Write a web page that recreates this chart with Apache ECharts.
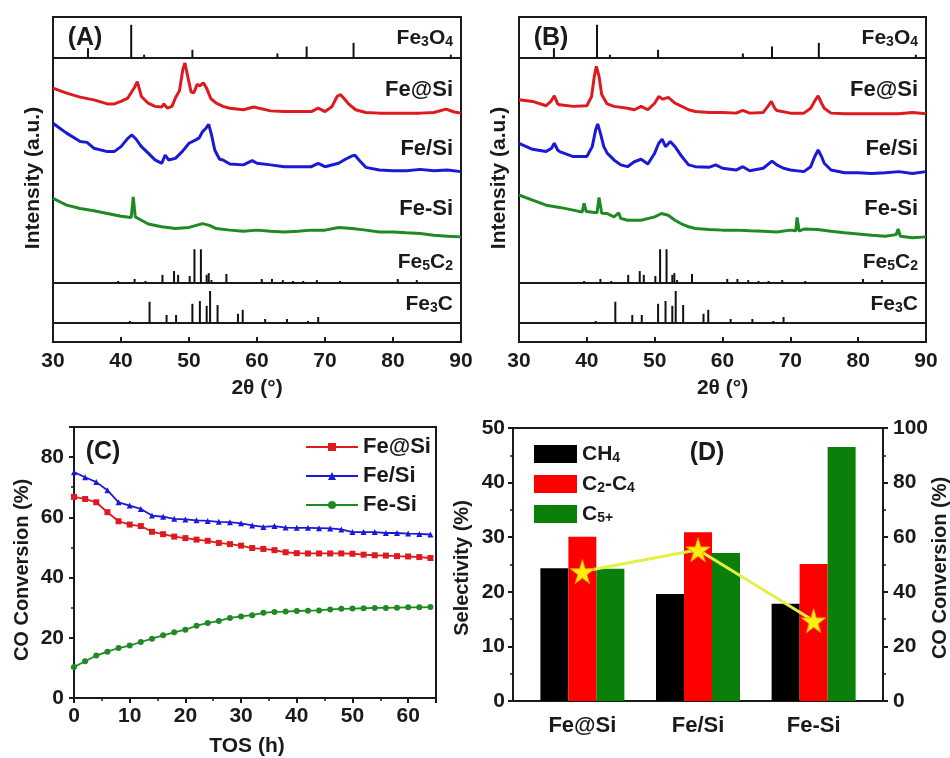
<!DOCTYPE html>
<html>
<head>
<meta charset="utf-8">
<script src="https://cdn.jsdelivr.net/npm/echarts@6/dist/echarts.min.js"></script>
<style>
  html, body { margin: 0; padding: 0; background: #fff; }
  #chart { width: 950px; height: 758px; }
</style>
</head>
<body>
<div id="chart"></div>
<script>
(function(){

    // ---- reference patterns (same in A and B), [2theta, relative height]
    var fe3o4Sticks = [[35.15,24],[41.5,81],[43.4,8],[50.5,20],[63.0,11],[67.3,28],[74.2,37],[88.5,8]];
    var fe5c2Sticks = [[39.6,0.9],[42.0,1.8],[43.6,0.9],[46.1,3.6],[47.8,5.3],[48.4,3.6],[50.1,3.1],[50.8,15],[51.75,15],
        [52.6,3.6],[52.9,4.4],[53.3,1.3],[55.5,4.0],[60.7,1.8],[62.2,1.8],[63.8,1.3],[65.3,0.9],[66.8,0.9],
        [68.8,1.3],[72.2,0.9],[80.7,1.8],[83.5,1.3]];
    var fe3cSticks = [[41.3,5],[44.2,53],[46.7,20],[48.1,20],[50.5,48],[51.6,55],[52.6,43],[53.1,80],[54.2,45],
        [57.2,23],[57.9,33],[61.2,10],[64.4,10],[67.5,5],[69.0,15]];

    // ---- XRD traces, panel A (offset intensities, a.u.)
    var xrdA_FeAtSi = [[30,86.6],[32,84.4],[34,82.6],[36,81.4],[38,79.6],[39,79.6],[40,80.7],[41,82.2],[42,87],[42.4,89.5],
        [43,82.9],[44,79.9],[45,78.5],[46,78.2],[46.3,79.6],[46.8,77.7],[47.5,78.5],[48,82.2],[48.6,85.5],[49.1,95],
        [49.4,97.8],[49.8,92],[50.3,85],[50.7,84.5],[51.2,88.3],[51.6,87.6],[52.1,89],[52.6,86.5],[53.2,82],[54,79.9],
        [55,78.5],[56,77.7],[58,77.0],[59.5,78.2],[60,77.9],[62,76.5],[64,76.2],[66,76.2],[68,76.2],[69,77.7],[70,76.2],
        [71,78.3],[71.8,83],[72.3,83.7],[72.8,82],[73.5,79.5],[74.5,77],[76,75.8],[78,75.5],[80,75.5],[82,75.5],
        [84,75.5],[86,75.8],[87.8,77.3],[89,76],[90,75.5]];
    var xrdA_FeSlashSi = [[30,71],[31,68.8],[32,66.6],[34,62.9],[35,62.5],[36,59.9],[38,58.4],[39,58.4],[40,60.6],[41,64.3],
        [41.6,65.8],[42.2,64],[43,60.6],[44,57.7],[45,54.7],[46,53.2],[46.5,56.9],[47,54.7],[48,55.4],[49,58.4],[50,62.1],
        [51,63.6],[51.5,64.5],[52,67.3],[52.5,68.8],[52.9,70.5],[53.3,66],[53.8,59],[54.5,55],[55,54.7],[56,52.9],
        [58,52.5],[59.3,54.4],[60,53.2],[62,52.5],[64,51.7],[66,51.7],[68,51.7],[69,53.2],[70,51.7],[72,53.2],[73,55],
        [74,56.5],[74.4,56.8],[75,54.7],[76,51.4],[78,50.2],[80,49.9],[82,49.9],[84,50.5],[86,49.9],[88,50.2],[90,49.5]];
    var xrdA_FeDashSi = [[30,37.6],[31,36.1],[32,34.6],[34,33.1],[36,32.1],[38,30.9],[40,29.7],[41.5,29.1],[41.8,38.3],
        [42.1,29.4],[43,27.9],[44,26.2],[46,25.0],[48,24.2],[50,24.7],[52,26.4],[53,25.6],[54,24.2],[56,23.5],[58,23.0],
        [60,23.5],[62,23.0],[64,22.7],[66,23.0],[68,23.5],[70,23.5],[72,24.7],[74,24.2],[76,23.5],[78,22.7],[80,22.7],
        [82,22.3],[84,22.0],[86,21.2],[88,20.8],[90,20.5]];

    // ---- XRD traces, panel B
    var xrdB_FeAtSi = [[30,81.4],[32,80.7],[34,78.8],[34.7,80.7],[35.2,83.2],[35.7,79.6],[36,79.2],[38,78.5],[40,78.8],
        [40.7,82.9],[41.1,91.8],[41.4,96.3],[41.8,91.8],[42.2,83.7],[43,79.6],[44,78.5],[46,77.7],[47,77.0],[48,78.5],
        [49,77.0],[50,79.9],[50.6,82.9],[51.2,81.7],[52,82.5],[53,79.9],[54,78.5],[55,77.0],[56,76.2],[58,75.8],
        [60,75.8],[62,75.5],[63,76.7],[64,75.5],[66,75.8],[66.7,78.5],[67.2,80.7],[67.7,77.7],[68,76.7],[70,75.5],
        [72,75.5],[73,77.7],[73.7,81.4],[74.1,83.2],[74.6,79.9],[75,77.7],[76,75.5],[78,75.2],[80,75.2],[82,75.2],
        [84,75.2],[86,75.2],[88,75.8],[90,75.2]];
    var xrdB_FeSlashSi = [[30,62.1],[32,59.4],[34,58.4],[34.8,59.9],[35.2,62.1],[35.7,59.1],[36,58.4],[38,56.2],[40,56.2],
        [40.8,60.6],[41.3,68.1],[41.6,70.7],[42,66.6],[42.5,60.6],[43,57.7],[44,54.7],[45,52.5],[46,51.7],[47,53.9],
        [48,55.0],[49,52.9],[50,57.7],[50.6,62.1],[51.1,63.9],[51.6,60.6],[52.3,62.9],[53,60.6],[54,56.2],[55,52.5],
        [56,51.7],[58,51.4],[59,52.5],[60,51.0],[62,50.2],[63,51.7],[64,49.9],[66,51.0],[67.3,54.2],[68,52.5],[69,51.0],
        [70,50.2],[72,49.5],[73,51.7],[73.6,56.2],[74.1,59.1],[74.6,56.2],[75,53.2],[76,50.2],[78,49.0],[80,49.0],
        [82,48.7],[84,49.0],[86,49.5],[88,48.7],[90,49.5]];
    var xrdB_FeDashSi = [[30,39.1],[32,36.8],[34,34.6],[36,33.6],[38,32.4],[39.3,31.5],[39.6,35.4],[39.9,31.8],[41.5,31.2],
        [41.8,38.0],[42.2,31.0],[43,30.9],[44,29.4],[44.7,31.2],[45,28.7],[46,27.9],[48,27.9],[50,29.4],[51,30.9],
        [52,30.1],[53,27.9],[54,26.2],[55,25.0],[56,24.2],[58,23.8],[60,23.5],[62,23.5],[64,23.2],[66,23.0],[68,22.7],
        [70,23.5],[70.8,23.2],[71,29.1],[71.3,23.0],[72,24.0],[74,23.8],[76,23.0],[78,22.3],[80,21.8],[82,21.2],
        [84,20.8],[85.6,21.5],[85.9,24.0],[86.2,20.8],[88,20.1],[90,20.5]];

    // ---- panel C: CO conversion vs TOS
    var tosHours = [0,2,4,6,8,10,12,14,16,18,20,22,24,26,28,30,32,34,36,38,40,42,44,46,48,50,52,54,56,58,60,62,64];
    var convFeAtSi = [66.8,66.1,65.0,61.7,58.7,57.6,57.1,55.2,54.4,53.6,53.1,52.6,52.2,51.5,51.1,50.6,49.8,49.5,49.1,
        48.4,48.1,48.0,48.0,48.0,48.0,47.9,47.6,47.4,47.3,47.1,47.0,46.8,46.5];
    var convFeSlashSi = [75.0,73.3,71.7,69.0,65.0,63.9,62.8,60.6,60.2,59.5,59.3,59.0,58.8,58.5,58.4,58.0,57.3,56.8,57.1,
        56.6,56.5,56.5,56.4,56.3,56.0,55.1,55.1,55.1,54.8,54.8,54.6,54.5,54.3];
    var convFeDashSi = [10.3,12.2,14.1,15.4,16.6,17.4,18.6,19.7,20.8,21.8,22.7,24.0,24.9,25.6,26.6,27.1,27.5,28.3,28.6,
        28.7,28.9,29.0,29.1,29.4,29.6,29.7,29.8,29.9,29.9,30.0,30.1,30.1,30.2];

    // ---- panel D: selectivity and conversion
    var dCats = ['Fe@Si', 'Fe/Si', 'Fe-Si'];
    var selCH4 = [24.3, 19.6, 17.8];
    var selC2C4 = [30.1, 30.9, 25.1];
    var selC5 = [24.2, 27.1, 46.5];
    var dConv = [47.4, 55.4, 29.4];

    var FONT = "'Liberation Sans', Arial, sans-serif";
    var INK = '#1a1a1a';
    var RED = '#dc1a1f', BLUE = '#1a1ad6', GREEN = '#1f8a24';

    var grids = [], xAxes = [], yAxes = [], series = [], texts = [];

    var sub = {
        n: { fontFamily: FONT, fontWeight: 'bold', fontSize: 21, verticalAlign: 'bottom', lineHeight: 22, color: INK },
        s: { fontFamily: FONT, fontWeight: 'bold', fontSize: 14, verticalAlign: 'bottom', lineHeight: 18, color: INK }
    };

    function txt(x, y, s, size, align, rot) {
        return {
            type: 'text', x: x, y: y, rotation: rot || 0, z: 100,
            style: {
                text: s, x: 0, y: 0, fill: INK,
                font: 'bold ' + size + 'px ' + FONT,
                align: align || 'center', verticalAlign: 'middle', rich: sub
            }
        };
    }

    function sticks(name, idx, data) {
        return {
            name: name, type: 'bar', xAxisIndex: idx, yAxisIndex: idx, data: data,
            barWidth: 2, itemStyle: { color: '#111' }, silent: true, animation: false
        };
    }

    function trace(name, idx, data, color) {
        return {
            name: name, type: 'line', xAxisIndex: idx, yAxisIndex: idx, data: data,
            showSymbol: false, lineStyle: { color: color, width: 3 }, itemStyle: { color: color },
            silent: true, animation: false
        };
    }

    function xrdPanel(key, left, width, red, blue, green) {
        var gi = grids.length;
        var tops = [17, 58, 283, 323], hs = [41, 225, 40, 19];
        for (var k = 0; k < 4; k++) {
            grids.push({ left: left, top: tops[k], width: width, height: hs[k], show: true,
                borderWidth: 2, borderColor: INK, backgroundColor: 'transparent' });
            xAxes.push({
                gridIndex: gi + k, type: 'value', min: 30, max: 90, interval: 10, show: k == 3,
                axisLine: { show: false }, splitLine: { show: false },
                axisTick: { show: true, inside: true, length: 5, lineStyle: { color: INK, width: 2 } },
                axisLabel: { showMaxLabel: true, margin: 9, color: INK, fontFamily: FONT, fontWeight: 'bold', fontSize: 21 }
            });
            yAxes.push({ gridIndex: gi + k, type: 'value', min: 0, max: 100, show: false });
        }
        series.push(sticks(key + 'Fe3O4', gi, fe3o4Sticks));
        series.push(sticks(key + 'Fe5C2', gi + 1, fe5c2Sticks));
        series.push(trace(key + 'Fe@Si', gi + 1, red, RED));
        series.push(trace(key + 'Fe/Si', gi + 1, blue, BLUE));
        series.push(trace(key + 'Fe-Si', gi + 1, green, GREEN));
        series.push(sticks(key + 'Fe3C', gi + 2, fe3cSticks));

        var r = left + width - 8;
        texts.push(txt(r, 38, '{n|Fe}{s|3}{n|O}{s|4}', 21, 'right'));
        texts.push(txt(r, 90, 'Fe@Si', 22, 'right'));
        texts.push(txt(r, 149, 'Fe/Si', 22, 'right'));
        texts.push(txt(r, 209, 'Fe-Si', 22, 'right'));
        texts.push(txt(r, 262, '{n|Fe}{s|5}{n|C}{s|2}', 21, 'right'));
        texts.push(txt(r, 304, '{n|Fe}{s|3}{n|C}', 21, 'right'));
        texts.push(txt(left + 32, 38, '(' + key + ')', 25, 'center'));
        texts.push(txt(left - 20, 178, 'Intensity (a.u.)', 21, 'center', Math.PI / 2));
        texts.push(txt(left + width / 2, 388, '2θ (°)', 21, 'center'));
    }

    xrdPanel('A', 53, 408, xrdA_FeAtSi, xrdA_FeSlashSi, xrdA_FeDashSi);
    xrdPanel('B', 519, 407, xrdB_FeAtSi, xrdB_FeSlashSi, xrdB_FeDashSi);

    var axisTxt = { color: INK, fontFamily: FONT, fontWeight: 'bold', fontSize: 21 };

    // ---- panel C
    var gC = grids.length;
    grids.push({ left: 74, top: 427, width: 362, height: 271, show: true, borderWidth: 2, borderColor: INK, backgroundColor: 'transparent' });
    xAxes.push({
        gridIndex: gC, type: 'value', min: 0, max: 65, interval: 10,
        axisLine: { lineStyle: { color: INK, width: 2 } }, splitLine: { show: false },
        axisTick: { length: 5, lineStyle: { color: INK, width: 2 } },
        minorTick: { show: true, splitNumber: 2, length: 3, lineStyle: { color: INK, width: 1.5 } },
        axisLabel: Object.assign({ margin: 8, showMaxLabel: false }, axisTxt)
    });
    yAxes.push({
        gridIndex: gC, type: 'value', min: 0, max: 90, interval: 20,
        axisLine: { lineStyle: { color: INK, width: 2 } }, splitLine: { show: false },
        axisTick: { length: 5, lineStyle: { color: INK, width: 2 } },
        minorTick: { show: true, splitNumber: 2, length: 3, lineStyle: { color: INK, width: 1.5 } },
        axisLabel: Object.assign({ margin: 10, showMaxLabel: false }, axisTxt)
    });
    function convSeries(name, vals, color, sym) {
        return {
            name: name, type: 'line', xAxisIndex: gC, yAxisIndex: gC,
            data: tosHours.map(function (t, i) { return [t, vals[i]]; }),
            symbol: sym, symbolSize: 6, showSymbol: true,
            lineStyle: { color: color, width: 1.8 }, itemStyle: { color: color },
            animation: false
        };
    }
    series.push(convSeries('Fe@Si', convFeAtSi, RED, 'rect'));
    series.push(convSeries('Fe/Si', convFeSlashSi, BLUE, 'triangle'));
    series.push(convSeries('Fe-Si', convFeDashSi, GREEN, 'circle'));
    texts.push(txt(103, 452, '(C)', 25, 'center'));
    texts.push(txt(22, 570, 'CO Conversion (%)', 20, 'center', Math.PI / 2));
    texts.push(txt(247, 746, 'TOS (h)', 21, 'center'));

    // ---- panel D
    var gD = grids.length;
    grids.push({ left: 513, top: 428, width: 370, height: 273, show: true, borderWidth: 2, borderColor: INK, backgroundColor: 'transparent' });
    xAxes.push({
        gridIndex: gD, type: 'value', min: 0.4, max: 3.6,
        axisLine: { lineStyle: { color: INK, width: 2 } }, splitLine: { show: false },
        axisTick: { show: false },
        axisLabel: Object.assign({
            margin: 14, fontSize: 22, customValues: [1, 2, 3],
            formatter: function (v) { return dCats[Math.round(v) - 1] || ''; }
        }, { color: INK, fontFamily: FONT, fontWeight: 'bold' })
    });
    var yLeft = yAxes.length;
    yAxes.push({
        gridIndex: gD, type: 'value', min: 0, max: 50, interval: 10, position: 'left',
        axisLine: { lineStyle: { color: INK, width: 2 } }, splitLine: { show: false },
        axisTick: { length: 5, lineStyle: { color: INK, width: 2 } },
        minorTick: { show: true, splitNumber: 2, length: 3, lineStyle: { color: INK, width: 1.5 } },
        axisLabel: Object.assign({ margin: 8 }, axisTxt)
    });
    var yRight = yAxes.length;
    yAxes.push({
        gridIndex: gD, type: 'value', min: 0, max: 100, interval: 20, position: 'right',
        axisLine: { show: true, lineStyle: { color: INK, width: 2 } }, splitLine: { show: false },
        axisTick: { length: 5, lineStyle: { color: INK, width: 2 } },
        minorTick: { show: true, splitNumber: 2, length: 3, lineStyle: { color: INK, width: 1.5 } },
        axisLabel: Object.assign({ margin: 10 }, axisTxt)
    });
    function selSeries(name, vals, color) {
        return {
            name: name, type: 'bar', xAxisIndex: gD, yAxisIndex: yLeft,
            data: vals.map(function (v, i) { return [i + 1, v]; }),
            barWidth: 28, barGap: '0%', itemStyle: { color: color }, animation: false
        };
    }
    series.push(selSeries('CH4', selCH4, '#000000'));
    series.push(selSeries('C2-C4', selC2C4, '#ff0000'));
    series.push(selSeries('C5+', selC5, '#0a800a'));
    series.push({
        name: 'conv', type: 'line', xAxisIndex: gD, yAxisIndex: yRight, z: 10,
        data: dConv.map(function (v, i) { return [i + 1, v]; }),
        symbol: 'path://M50,0 L61,35 L98,35 L68,57 L79,91 L50,70 L21,91 L32,57 L2,35 L39,35 Z',
        symbolSize: 24, showSymbol: true,
        lineStyle: { color: '#e4f04a', width: 3 },
        itemStyle: { color: '#ffee10', borderColor: '#f2a200', borderWidth: 1 },
        animation: false
    });
    texts.push(txt(707, 453, '(D)', 25, 'center'));
    texts.push(txt(462, 568, 'Selectivity (%)', 20, 'center', Math.PI / 2));
    texts.push(txt(940, 568, 'CO Conversion (%)', 20, 'center', Math.PI / 2));

    var dNames = { 'CH4': '{n|CH}{s|4}', 'C2-C4': '{n|C}{s|2}{n|-C}{s|4}', 'C5+': '{n|C}{s|5+}' };

    var option = {
        backgroundColor: '#fff',
        animation: false,
        grid: grids,
        xAxis: xAxes,
        yAxis: yAxes,
        legend: [
            {
                data: ['Fe@Si', 'Fe/Si', 'Fe-Si'], orient: 'vertical', left: 300, top: 431,
                itemWidth: 52, itemHeight: 10, itemGap: 7, selectedMode: false,
                textStyle: { color: INK, fontFamily: FONT, fontWeight: 'bold', fontSize: 22, lineHeight: 22 }
            },
            {
                data: ['CH4', 'C2-C4', 'C5+'], orient: 'vertical', left: 529, top: 439,
                itemWidth: 43, itemHeight: 18, itemGap: 9, selectedMode: false, icon: 'rect',
                formatter: function (n) { return dNames[n]; },
                textStyle: { color: INK, rich: sub }
            }
        ],
        series: series,
        graphic: texts
    };

    var chart = echarts.init(document.getElementById('chart'));
    chart.setOption(option);

})();
</script>
</body>
</html>
